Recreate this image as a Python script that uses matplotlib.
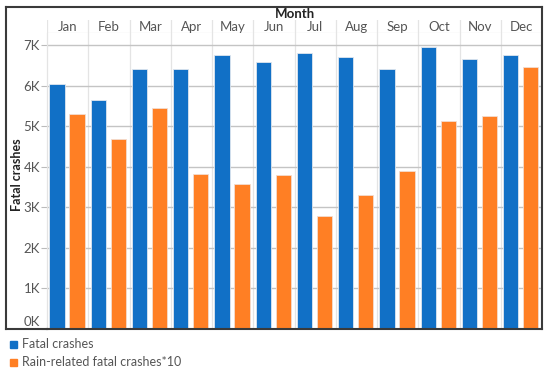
import matplotlib
matplotlib.use("Agg")
import matplotlib.pyplot as plt
from matplotlib.patches import Rectangle
from matplotlib.lines import Line2D

months = ["Jan", "Feb", "Mar", "Apr", "May", "Jun", "Jul", "Aug", "Sep", "Oct", "Nov", "Dec"]
fatal = [6040, 5640, 6400, 6420, 6750, 6590, 6800, 6700, 6400, 6950, 6650, 6750]
rain_x10 = [5300, 4680, 5450, 3810, 3580, 3780, 2780, 3300, 3890, 5130, 5260, 6460]
ytick_vals = [0, 1000, 2000, 3000, 4000, 5000, 6000, 7000]
ytick_labels = ["0K", "1K", "2K", "3K", "4K", "5K", "6K", "7K"]

BLUE = "#1170C6"
ORANGE = "#FF7F24"
W, H = 550, 374
plt.rcParams["font.family"] = ["Lato", "DejaVu Sans"]
FS = 9.5

fig = plt.figure(figsize=(W / 100, H / 100), dpi=100)

def fr(x0, y0, x1, y1):
    return [x0 / W, 1 - y1 / H, (x1 - x0) / W, (y1 - y0) / H]

ax = fig.add_axes(fr(47, 33, 542, 328.5))
hd = fig.add_axes(fr(47, 20, 542, 33))

n = len(months)
xs = list(range(n))
bw = 0.37
ax.bar([x + 0.24 for x in xs], fatal, width=bw, color=BLUE, edgecolor="#dfe6ee", linewidth=0.6, zorder=3)
ax.bar([x + 0.73 for x in xs], rain_x10, width=bw, color=ORANGE, edgecolor="#f3ddd0", linewidth=0.6, zorder=3)
ax.set_xlim(0, n)
ax.set_ylim(0, 7300)
ax.set_xticks([])
ax.set_yticks(ytick_vals)
ax.set_yticklabels(ytick_labels)
for lab in ax.get_yticklabels():
    lab.set_color("#555555")
    lab.set_fontsize(FS)
ax.tick_params(axis="y", length=4, color="#bbbbbb", pad=1)
for v in ytick_vals:
    if v > 0:
        ax.axhline(v, color="#c4c4c4", lw=1.0, zorder=1)
for x in range(1, n):
    ax.axvline(x, color="#e4e4e4", lw=0.9, zorder=0)
for s in ["top", "right"]:
    ax.spines[s].set_visible(False)
ax.spines["left"].set_color("#e4e4e4")
ax.spines["left"].set_linewidth(0.9)
ax.spines["bottom"].set_color("#3a3a3a")
ax.spines["bottom"].set_linewidth(1.5)
ax.spines["bottom"].set_zorder(6)
ylabs = ax.get_yticklabels()
ylabs[0].set_verticalalignment("bottom")

fig.text(17 / W, 1 - 175 / H, "Fatal crashes", rotation=90, ha="center", va="center",
         fontsize=9, fontweight="bold", color="#222222")

hd.set_xlim(0, n)
hd.set_ylim(0, 1)
hd.axis("off")
for x in range(0, n + 1):
    hd.axvline(x, color="#e4e4e4", lw=0.9)
hd.axhline(0, color="#e4e4e4", lw=0.9)
for i, m in enumerate(months):
    hd.text(i + 0.5, 0.45, m, ha="center", va="center", fontsize=FS, color="#555555")

fig.text(294.5 / W, 1 - 14.5 / H, "Month", ha="center", va="center", fontsize=FS,
         fontweight="bold", color="#222222")

# outer frame
fc = "#3a3a3a"
fig.add_artist(Line2D([6 / W, 542 / W], [1 - 7 / H, 1 - 7 / H], color=fc, lw=1.5))
fig.add_artist(Line2D([6 / W, 6 / W], [1 - 7 / H, 1 - 329 / H], color=fc, lw=1.5))
fig.add_artist(Line2D([542 / W, 542 / W], [1 - 7 / H, 1 - 329 / H], color=fc, lw=1.5))
fig.add_artist(Line2D([6 / W, 47 / W], [1 - 328.5 / H, 1 - 328.5 / H], color=fc, lw=1.5))

# legend
for yc, col, lab in [(344.5, BLUE, "Fatal crashes"), (362, ORANGE, "Rain-related fatal crashes*10")]:
    fig.add_artist(Rectangle((10 / W, 1 - (yc + 3.5) / H), 7 / W, 7 / H, color=col))
    fig.text(22 / W, 1 - yc / H, lab, ha="left", va="center", fontsize=9, color="#555555")

fig.savefig("out.png", dpi=100)
